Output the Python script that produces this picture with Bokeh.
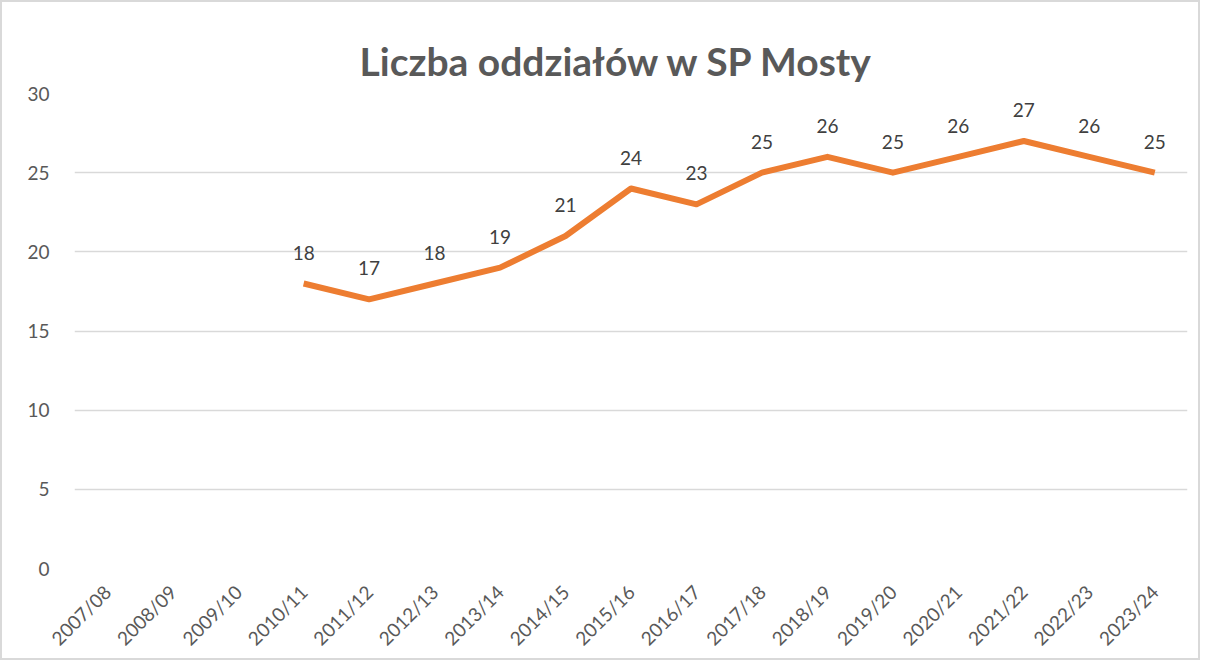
import math
from bokeh.plotting import figure
from bokeh.models import ColumnDataSource, FactorRange, FixedTicker, LabelSet, Title
from bokeh.core.properties import value
from bokeh.embed import file_html
from bokeh.resources import INLINE

years = ["2007/08", "2008/09", "2009/10", "2010/11", "2011/12", "2012/13", "2013/14",
         "2014/15", "2015/16", "2016/17", "2017/18", "2018/19", "2019/20", "2020/21",
         "2021/22", "2022/23", "2023/24"]
values = [float("nan"), float("nan"), float("nan"), 18, 17, 18, 19, 21, 24, 23, 25, 26, 25, 26, 27, 26, 25]
y_ticks = [0, 5, 10, 15, 20, 25, 30]
title_text = "Liczba oddziałów w SP Mosty"

FONT = "Lato"

labels = ["" if (isinstance(v, float) and math.isnan(v)) else str(int(v)) for v in values]
src = ColumnDataSource(dict(x=years, y=values, lab=labels))

p = figure(x_range=FactorRange(*years), y_range=(0, 30), width=1200, height=660,
           output_backend="svg", toolbar_location=None,
           min_border_left=72, min_border_right=15, min_border_top=91, min_border_bottom=94)
p.styles = {"border": "2px solid #d9d9d9", "box-sizing": "border-box"}
p.outline_line_color = None
p.background_fill_color = "white"
p.border_fill_color = "white"

p.title = Title(text=title_text, align="left", offset=285, text_font=FONT, text_font_size="39px",
                text_font_style="bold", text_color="#595959", standoff=19)

p.line("x", "y", source=src, line_color="#ED7D31", line_width=6, line_join="round")

ls = LabelSet(x="x", y="y", text="lab", source=src, y_offset=24, text_align="center",
              text_baseline="bottom", text_font=value(FONT), text_font_size="19px",
              text_color="#404040")
p.add_layout(ls)

p.yaxis.ticker = FixedTicker(ticks=y_ticks)
for ax in (p.xaxis[0], p.yaxis[0]):
    ax.axis_line_color = None
    ax.major_tick_line_color = None
    ax.minor_tick_line_color = None
    ax.major_label_text_font = FONT
    ax.major_label_text_color = "#595959"
p.yaxis.major_label_text_font_size = "19px"
p.xaxis.major_label_text_font_size = "19px"
p.yaxis.major_label_standoff = 19
p.xaxis.major_label_orientation = math.pi / 4
p.xaxis.major_label_standoff = 14
p.xgrid.grid_line_color = None
p.ygrid.grid_line_color = "#d9d9d9"
p.ygrid.grid_line_width = 1.5

open("out.html", "w").write(file_html(p, INLINE))
